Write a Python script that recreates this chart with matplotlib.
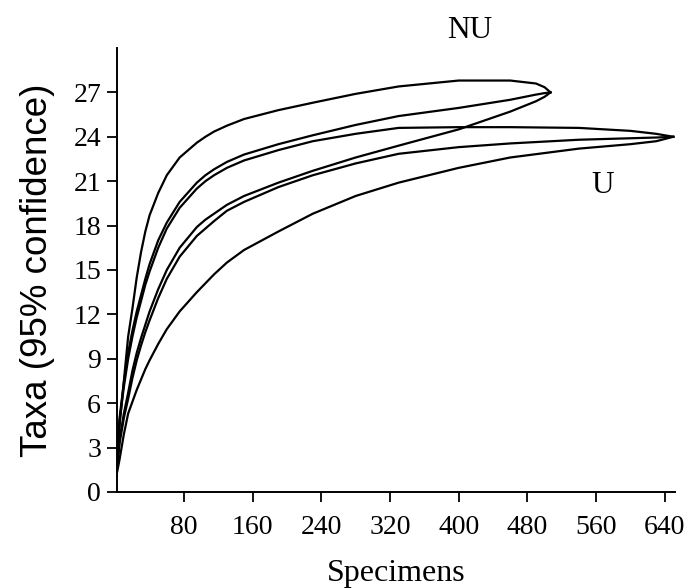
import numpy as np
import matplotlib
matplotlib.use('Agg')
import matplotlib.pyplot as plt

nu_x = [1, 5, 10, 15, 20, 25, 30, 35, 40, 50, 60, 75, 95, 105, 115, 130, 150, 190, 230, 280, 330, 400, 460, 490, 500, 507]
nu_upper = [1, 4.5, 7.5, 10.5, 12.4, 14.5, 16.2, 17.6, 18.7, 20.2, 21.4, 22.6, 23.6, 24.0, 24.35, 24.75, 25.2, 25.8, 26.3, 26.9, 27.4, 27.8, 27.8, 27.6, 27.35, 27.0]
nu_mean = [1, 5.0, 7.4, 9.4, 10.9, 12.2, 13.3, 14.4, 15.4, 17.0, 18.2, 19.6, 20.9, 21.4, 21.8, 22.3, 22.8, 23.5, 24.1, 24.8, 25.4, 25.95, 26.5, 26.85, 26.95, 27.0]
nu_lower = [1, 3.5, 5.3, 6.7, 8.2, 9.4, 10.4, 11.3, 12.2, 13.7, 15.0, 16.5, 17.9, 18.4, 18.8, 19.4, 20.0, 20.9, 21.7, 22.6, 23.4, 24.5, 25.7, 26.4, 26.7, 27.0]

u_x = [1, 5, 10, 15, 20, 25, 30, 35, 40, 50, 60, 75, 95, 105, 115, 130, 150, 190, 230, 280, 330, 400, 460, 540, 600, 630, 650]
u_upper = [1, 4.8, 7.1, 9.0, 10.5, 11.8, 12.9, 14.0, 14.9, 16.5, 17.8, 19.2, 20.5, 21.0, 21.4, 21.9, 22.4, 23.1, 23.7, 24.2, 24.6, 24.65, 24.65, 24.6, 24.4, 24.2, 24.0]
u_mean = [1, 3.3, 5.0, 6.3, 7.7, 8.9, 9.9, 10.8, 11.6, 13.1, 14.4, 15.9, 17.3, 17.8, 18.3, 19.0, 19.6, 20.6, 21.4, 22.2, 22.85, 23.3, 23.55, 23.8, 23.9, 23.95, 24.0]
u_lower = [1, 2.2, 3.9, 5.3, 6.1, 6.9, 7.6, 8.3, 8.9, 10.0, 11.0, 12.2, 13.5, 14.1, 14.7, 15.5, 16.35, 17.6, 18.8, 20.0, 20.9, 21.9, 22.6, 23.2, 23.5, 23.7, 24.0]

xticks = [80, 160, 240, 320, 400, 480, 560, 640]
yticks = [0, 3, 6, 9, 12, 15, 18, 21, 24, 27]

serif = 'Liberation Serif'

fig = plt.figure(figsize=(6.91, 5.88), dpi=100)
ax = fig.add_axes([0.1693, 0.1633, 0.8076, 0.7551])

for y in [nu_upper, nu_mean, nu_lower]:
    ax.plot(nu_x, y, color='black', lw=1.6)
for y in [u_upper, u_mean, u_lower]:
    ax.plot(u_x, y, color='black', lw=1.6)

ax.set_xlim(2, 652)
ax.set_ylim(0, 30)
ax.set_xticks(xticks)
ax.set_yticks(yticks)
ax.set_xticklabels([str(t) for t in xticks], fontfamily=serif, fontsize=20)
ax.set_yticklabels([str(t) for t in yticks], fontfamily=serif, fontsize=20)
ax.tick_params(direction='out', length=7.5, width=1.3, pad=4)
ax.tick_params(axis='x', pad=9)
ax.spines['top'].set_visible(False)
ax.spines['right'].set_visible(False)
ax.spines['left'].set_linewidth(1.4)
ax.spines['bottom'].set_linewidth(1.4)

ax.set_xlabel('Specimens', fontfamily=serif, fontsize=23, labelpad=14)
ax.set_ylabel('Taxa (95% confidence)', fontfamily='Liberation Sans', fontsize=26.5, labelpad=13)

ax.text(413, 31.15, 'NU', fontfamily=serif, fontsize=22.5, ha='center', va='center', clip_on=False)
ax.text(568, 20.7, 'U', fontfamily=serif, fontsize=22.5, ha='center', va='center')

fig.savefig('out.png', dpi=100)
